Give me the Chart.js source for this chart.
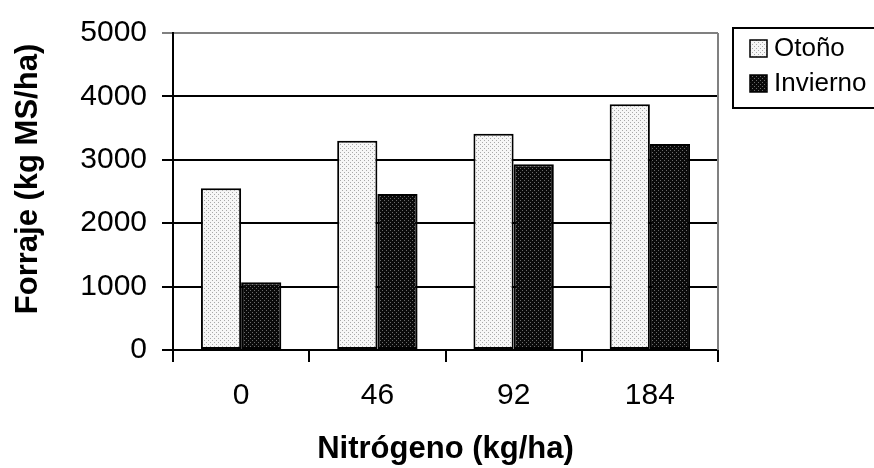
<!DOCTYPE html>
<html>
<head>
<meta charset="utf-8">
<script src="https://cdn.jsdelivr.net/npm/chart.js@4/dist/chart.umd.min.js"></script>
<style>
  html, body { margin: 0; padding: 0; background: #fff; }
  #wrap { width: 874px; height: 468px; position: relative; }
</style>
</head>
<body>
<div id="wrap"><canvas id="forageChart" width="874" height="468"></canvas></div>
<script>
const categories = ['0', '46', '92', '184'];
const otonoValues = [2550, 3300, 3410, 3875];
const inviernoValues = [1070, 2460, 2930, 3250];
const seriesLabels = ['Otoño', 'Invierno'];
const yTitle = 'Forraje (kg MS/ha)';
const xTitle = 'Nitrógeno (kg/ha)';
const yMax = 5000;
const yStep = 1000;

const FONT = '"Liberation Sans", Arial, sans-serif';

// stippled fills like the old spreadsheet patterns
function makePattern(bg, dot) {
    const c = document.createElement('canvas');
    c.width = 4;
    c.height = 4;
    const g = c.getContext('2d');
    g.fillStyle = bg;
    g.fillRect(0, 0, 4, 4);
    g.fillStyle = dot;
    g.fillRect(0, 0, 1, 1);
    g.fillRect(2, 2, 1, 1);
    return g.createPattern(c, 'repeat');
}
const lightFill = makePattern('#f6f6f6', '#a8a8a8');
const darkFill = makePattern('#0a0a0a', '#6a6a6a');

const framePlugin = {
    id: 'frame',
    afterDraw(chart) {
        const ctx = chart.ctx;
        const a = chart.chartArea;
        ctx.save();
        ctx.strokeStyle = '#808080';
        ctx.lineWidth = 2;
        ctx.beginPath();
        ctx.moveTo(a.right, a.top);
        ctx.lineTo(a.right, a.bottom);
        ctx.stroke();

        // y title, sits a little above the plot middle in the original
        ctx.save();
        ctx.translate(28, 179);
        ctx.rotate(-Math.PI / 2);
        ctx.font = 'bold 31px ' + FONT;
        ctx.textAlign = 'center';
        ctx.textBaseline = 'middle';
        ctx.fillStyle = '#000';
        ctx.fillText(yTitle, 0, 0);
        ctx.restore();

        // legend box
        ctx.strokeStyle = '#000';
        ctx.lineWidth = 2;
        ctx.strokeRect(733, 28, 150, 80);
        const fills = [lightFill, darkFill];
        const rows = [48, 83];
        ctx.font = '26px ' + FONT;
        ctx.textBaseline = 'middle';
        seriesLabels.forEach((lab, i) => {
            ctx.fillStyle = fills[i];
            ctx.fillRect(750, rows[i] - 8, 17, 17);
            ctx.strokeStyle = '#000';
            ctx.lineWidth = 1.5;
            ctx.strokeRect(750, rows[i] - 8, 17, 17);
            ctx.fillStyle = '#000';
            ctx.fillText(lab, 774, rows[i] + 1);
        });
        ctx.restore();
    }
};

const ctx = document.getElementById('forageChart').getContext('2d');
new Chart(ctx, {
    type: 'bar',
    data: {
        labels: categories,
        datasets: [{
            label: seriesLabels[0],
            data: otonoValues,
            backgroundColor: lightFill,
            borderColor: '#000',
            borderWidth: 2,
            borderSkipped: false
        }, {
            label: seriesLabels[1],
            data: inviernoValues,
            backgroundColor: darkFill,
            borderColor: '#000',
            borderWidth: 2,
            borderSkipped: false
        }]
    },
    options: {
        responsive: false,
        animation: false,
        layout: { padding: { top: 30, right: 156, left: 0, bottom: 0 } },
        datasets: { bar: { categoryPercentage: 0.59, barPercentage: 1 } },
        plugins: {
            legend: { display: false },
            tooltip: { enabled: false }
        },
        scales: {
            x: {
                grid: {
                    offset: true,
                    drawOnChartArea: false,
                    tickLength: 12,
                    color: '#000',
                    lineWidth: 2
                },
                border: { color: '#000', width: 2 },
                ticks: { color: '#000', font: { family: FONT, size: 30 }, padding: 16 },
                title: {
                    display: true,
                    text: xTitle,
                    color: '#000',
                    font: { family: FONT, size: 31, weight: 'bold' },
                    padding: { top: 0, bottom: 0 }
                },
                afterFit(scale) { scale.height = 118; }
            },
            y: {
                min: 0,
                max: yMax,
                grid: {
                    tickLength: 11,
                    lineWidth: 2,
                    color: c => (c.tick && c.tick.value === yMax) ? '#808080' : '#000'
                },
                border: { color: '#000', width: 2 },
                ticks: {
                    stepSize: yStep,
                    color: '#000',
                    font: { family: FONT, size: 30 },
                    padding: 15,
                    callback: v => String(v)
                },
                afterFit(scale) { scale.width = 173; }
            }
        }
    },
    plugins: [framePlugin]
});
</script>
</body>
</html>
